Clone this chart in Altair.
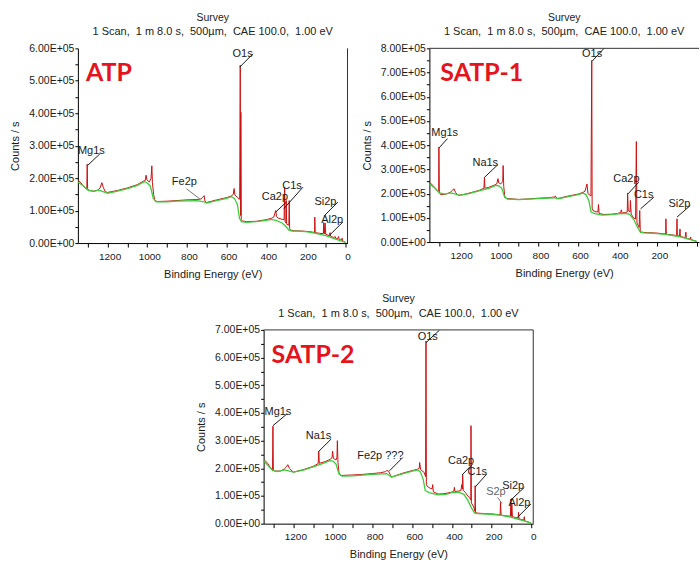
import altair as alt
import pandas as pd

FONT = "Liberation Sans"
RED = "#cc1010"
GREEN = "#3ccc3c"
INK = "#1a1a1a"
GREY = "#777777"

# ---------------- ATP ----------------
atp_red_be = [1350, 1335, 1318, 1305, 1303, 1301, 1295, 1270, 1250, 1238, 1229, 1222, 1212, 1200, 1150, 1100, 1050, 1022, 1010, 1006, 1002, 990, 981, 977, 974, 968, 962, 950, 900, 850, 800, 750, 728, 720, 713, 709, 700, 650, 600, 575, 566, 562, 558, 545, 534, 531, 529, 528, 526, 520, 500, 450, 400, 375, 362, 352, 348, 340, 320, 310, 307, 305, 300, 299, 297, 286, 284, 282, 278, 260, 220, 180, 160, 156, 155, 153, 130, 112, 110, 107, 103, 100, 82, 78, 75, 60, 52, 49, 40, 35, 32, 20, 17, 15, 5, 0]
atp_red_cps = [193000, 186000, 172000, 166000, 243000, 168000, 162000, 160000, 163000, 170000, 186000, 172000, 158000, 156000, 162000, 170000, 180000, 190000, 193000, 209000, 195000, 188000, 199000, 238000, 186000, 150000, 131000, 128000, 129000, 131000, 133000, 134000, 136000, 141000, 146000, 128000, 125000, 133000, 140000, 145000, 151000, 168000, 148000, 140000, 135000, 548000, 85000, 403000, 72000, 68000, 66000, 67000, 72000, 76000, 80000, 100000, 82000, 77000, 73000, 72000, 172000, 66000, 62000, 131000, 58000, 55000, 131000, 45000, 40000, 38000, 37000, 35000, 33000, 32000, 80000, 32000, 30000, 29000, 63000, 28000, 62000, 27000, 23000, 32000, 21000, 17000, 20000, 14000, 13000, 20000, 11000, 9000, 15000, 7000, 4000, 2000]
atp_green_be = [1350, 1320, 1300, 1270, 1245, 1230, 1200, 1150, 1100, 1050, 1015, 1000, 985, 970, 955, 900, 850, 800, 750, 720, 700, 650, 600, 575, 560, 545, 535, 525, 500, 450, 400, 375, 350, 320, 300, 285, 270, 250, 200, 150, 100, 50, 20, 0]
atp_green_cps = [188000, 175000, 163000, 159000, 163000, 160000, 153000, 160000, 168000, 178000, 189000, 185000, 176000, 138000, 127000, 127000, 129000, 130000, 131000, 128000, 123000, 131000, 138000, 143000, 137000, 118000, 76000, 66000, 64000, 66000, 70000, 73000, 70000, 62000, 50000, 40000, 37000, 37000, 35000, 30000, 23000, 12000, 6000, 2000]
atp_ann_name = ["Mg1s", "Fe2p", "O1s", "Ca2p", "C1s", "Si2p", "Al2p"]
atp_ann_be = [1282, 813, 519, 356, 270, 101, 67]
atp_ann_cps = [285000, 188000, 582000, 141000, 177000, 126000, 70000]
atp_lead_be1 = [1239, 802, 467, 299, 215, 39, 13]
atp_lead_cps1 = [275000, 167000, 583000, 126000, 172000, 126000, 65000]
atp_lead_be2 = [1301, 735, 534, 353, 311, 106, 81]
atp_lead_cps2 = [239000, 136000, 542000, 95000, 106000, 85000, 24000]
atp_text_col = [INK, INK, INK, INK, INK, INK, INK]
atp_lead_col = [INK, GREY, INK, INK, INK, INK, INK]

# ---------------- SATP-1 ----------------
s1_red_be = [1350, 1330, 1315, 1303, 1302, 1300, 1295, 1270, 1245, 1232, 1226, 1218, 1205, 1180, 1150, 1100, 1075, 1072, 1070, 1050, 1020, 1010, 1004, 1000, 990, 980, 978, 975, 970, 962, 930, 900, 850, 800, 750, 720, 715, 705, 690, 650, 600, 575, 565, 555, 550, 535, 531, 529, 525, 510, 500, 497, 494, 470, 430, 400, 385, 382, 378, 360, 352, 350, 347, 338, 336, 332, 320, 310, 306, 303, 292, 289, 286, 270, 250, 200, 170, 158, 157, 155, 130, 103, 101, 99, 88, 86, 84, 60, 56, 54, 35, 32, 30, 15, 0]
s1_red_cps = [247000, 232000, 215000, 210000, 392000, 205000, 197000, 197000, 205000, 215000, 220000, 205000, 193000, 196000, 202000, 213000, 222000, 268000, 222000, 226000, 236000, 240000, 262000, 245000, 240000, 250000, 316000, 230000, 190000, 180000, 178000, 176000, 178000, 181000, 183000, 186000, 190000, 180000, 182000, 190000, 198000, 205000, 210000, 240000, 200000, 190000, 750000, 140000, 130000, 125000, 124000, 155000, 118000, 114000, 115000, 118000, 122000, 133000, 120000, 122000, 124000, 202000, 130000, 125000, 172000, 115000, 100000, 95000, 415000, 80000, 60000, 130000, 42000, 40000, 39000, 37000, 34000, 33000, 96000, 32000, 30000, 27000, 96000, 26000, 25000, 54000, 23000, 18000, 41000, 15000, 12000, 21000, 10000, 6000, 2000]
s1_green_be = [1350, 1320, 1300, 1270, 1245, 1225, 1200, 1150, 1100, 1050, 1015, 1000, 985, 970, 955, 900, 800, 720, 700, 650, 600, 575, 560, 545, 535, 520, 480, 430, 400, 360, 340, 320, 300, 285, 270, 200, 150, 100, 50, 20, 0]
s1_green_cps = [240000, 222000, 203000, 198000, 203000, 200000, 193000, 200000, 211000, 222000, 234000, 232000, 222000, 185000, 177000, 175000, 179000, 183000, 178000, 188000, 196000, 202000, 196000, 170000, 125000, 118000, 111000, 113000, 116000, 118000, 114000, 95000, 60000, 40000, 38000, 35000, 31000, 24000, 14000, 7000, 2000]
s1_ann_name = ["Mg1s", "Na1s", "O1s", "Ca2p", "C1s", "Si2p"]
s1_ann_be = [1273, 1068, 529, 356, 269, 89]
s1_ann_cps = [450000, 327000, 775000, 261000, 196000, 158000]
s1_lead_be1 = [1259, 1004, 470, 294, 218, 34]
s1_lead_cps1 = [427000, 320000, 799000, 247000, 185000, 151000]
s1_lead_be2 = [1301, 1071, 529, 348, 285, 101]
s1_lead_cps2 = [389000, 268000, 747000, 199000, 137000, 103000]
s1_text_col = [INK, INK, INK, INK, INK, INK]
s1_lead_col = [INK, INK, INK, INK, INK, INK]

# ---------------- SATP-2 ----------------
s2_red_be = [1350, 1330, 1315, 1305, 1303, 1301, 1290, 1265, 1245, 1235, 1228, 1220, 1200, 1150, 1100, 1075, 1072, 1069, 1040, 1015, 1005, 1002, 998, 985, 980, 978, 975, 970, 962, 930, 900, 850, 800, 760, 735, 728, 720, 712, 705, 690, 650, 600, 575, 565, 563, 558, 540, 533, 531, 529, 520, 510, 500, 497, 494, 470, 440, 400, 390, 388, 385, 365, 355, 350, 348, 346, 343, 332, 320, 310, 305, 304, 302, 290, 284, 283, 281, 270, 250, 200, 170, 157, 155, 152, 130, 105, 103, 100, 98, 95, 78, 66, 64, 62, 50, 37, 35, 33, 15, 0]
s2_red_cps = [233000, 218000, 202000, 195000, 352000, 192000, 190000, 190000, 198000, 205000, 213000, 200000, 186000, 195000, 207000, 217000, 262000, 218000, 224000, 232000, 238000, 262000, 236000, 230000, 240000, 300000, 220000, 185000, 174000, 175000, 176000, 178000, 181000, 184000, 188000, 192000, 190000, 178000, 168000, 172000, 182000, 192000, 196000, 200000, 221000, 195000, 185000, 170000, 660000, 140000, 132000, 128000, 126000, 141000, 115000, 107000, 108000, 114000, 118000, 131000, 116000, 118000, 120000, 141000, 125000, 178000, 120000, 112000, 100000, 92000, 85000, 354000, 75000, 60000, 45000, 137000, 40000, 38000, 37000, 35000, 33000, 32000, 77000, 31000, 28000, 27000, 89000, 26000, 72000, 25000, 22000, 20000, 41000, 18000, 15000, 13000, 25000, 10000, 6000, 1000]
s2_green_be = [1350, 1325, 1305, 1280, 1245, 1225, 1200, 1150, 1100, 1050, 1015, 1000, 985, 970, 955, 900, 800, 730, 705, 650, 600, 575, 560, 545, 535, 515, 470, 430, 400, 365, 340, 320, 300, 285, 270, 200, 150, 100, 50, 20, 0]
s2_green_cps = [228000, 208000, 192000, 188000, 194000, 191000, 186000, 193000, 205000, 218000, 228000, 226000, 215000, 180000, 172000, 173000, 178000, 181000, 168000, 180000, 190000, 194000, 188000, 160000, 120000, 112000, 104000, 106000, 112000, 114000, 106000, 85000, 55000, 38000, 36000, 34000, 30000, 23000, 13000, 6000, 1000]
s2_ann_name = ["Mg1s", "Na1s", "Fe2p ???", "O1s", "Ca2p", "C1s", "S2p", "Si2p", "Al2p"]
s2_ann_be = [1278, 1073, 761, 522, 354, 272, 178, 91, 60]
s2_ann_cps = [405000, 316000, 245000, 676000, 227000, 185000, 113000, 137000, 75000]
s2_lead_be1 = [1233, 1009, 648, 463, 296, 225, 170, 35, 2]
s2_lead_cps1 = [396000, 306000, 239000, 699000, 215000, 179000, 95000, 131000, 71000]
s2_lead_be2 = [1303, 1072, 715, 531, 349, 282, 148, 102, 69]
s2_lead_cps2 = [354000, 261000, 191000, 654000, 176000, 133000, 73000, 86000, 23000]
s2_text_col = [INK, INK, INK, INK, INK, INK, "#666666", INK, INK]
s2_lead_col = [INK, INK, INK, INK, INK, INK, GREY, INK, INK]

SUB = "1 Scan,\u00a0 1 m 8.0 s,\u00a0 500\u00b5m,\u00a0 CAE 100.0,\u00a0 1.00 eV"


def y_label_expr():
    return ("datum.value % 100000 === 0 ? format(datum.value / 100000, '.2f') + 'E+' + "
            "(datum.value === 0 ? '00' : '05') : ''")


def panel(sample, red_be, red_cps, green_be, green_cps, ann, ymax, w, h,
          top_line, right_line, show_zero, tag_x):
    xs = alt.Scale(domain=[-10, 1350], reverse=True, nice=False, zero=False)
    ys = alt.Scale(domain=[0, ymax], nice=False, zero=True)
    zero_cond = "true" if show_zero else "datum.value > 0"
    xaxis = alt.Axis(values=list(range(0, 1301, 100)),
                     labelExpr=f"datum.value % 200 === 0 && {zero_cond} ? '' + datum.value : ''",
                     title="Binding Energy (eV)", grid=False, tickSize=4, labelPadding=4,
                     labelFontSize=10, labelOffset=2, titleFontSize=11, titlePadding=7,
                     labelFlush=False, labelOverlap=False, titleFontWeight="normal",
                     labelFont=FONT, titleFont=FONT)
    yaxis = alt.Axis(values=list(range(0, ymax + 1, 50000)), labelExpr=y_label_expr(),
                     title="Counts / s", grid=False, tickSize=3, labelPadding=1,
                     labelFontSize=10.5, titleFontSize=11, titlePadding=8,
                     labelOverlap=False, titleFontWeight="normal",
                     labelFont=FONT, titleFont=FONT)

    red_df = pd.DataFrame({"be": red_be, "cps": red_cps, "i": list(range(len(red_be)))})
    green_df = pd.DataFrame({"be": green_be, "cps": green_cps, "i": list(range(len(green_be)))})
    names, tbe, tcps, b1, c1, b2, c2, tcol, lcol = ann
    ann_df = pd.DataFrame({"name": names, "tx": tbe, "ty": tcps, "x1": b1, "y1": c1,
                           "x2": b2, "y2": c2, "tcol": tcol, "lcol": lcol})

    red = alt.Chart(red_df).mark_line(color=RED, strokeWidth=1, clip=True).encode(
        x=alt.X("be:Q", scale=xs, axis=xaxis),
        y=alt.Y("cps:Q", scale=ys, axis=yaxis),
        order="i:Q")
    green = alt.Chart(green_df).mark_line(color=GREEN, strokeWidth=1.3, clip=True).encode(
        x=alt.X("be:Q", scale=xs, axis=xaxis),
        y=alt.Y("cps:Q", scale=ys, axis=yaxis),
        order="i:Q")
    leads = alt.Chart(ann_df).mark_rule(strokeWidth=1, clip=True).encode(
        x=alt.X("x1:Q", scale=xs, axis=xaxis), x2="x2:Q",
        y=alt.Y("y1:Q", scale=ys, axis=yaxis), y2="y2:Q",
        color=alt.Color("lcol:N", scale=None))
    labels = alt.Chart(ann_df).mark_text(font=FONT, fontSize=11, align="center",
                                         baseline="middle").encode(
        x=alt.X("tx:Q", scale=xs, axis=xaxis),
        y=alt.Y("ty:Q", scale=ys, axis=yaxis),
        text="name:N",
        fill=alt.Fill("tcol:N", scale=None))
    one = pd.DataFrame({"t": [sample]})
    tag = alt.Chart(one).mark_text(font="Lato", fontSize=25, fontWeight="bold",
                                   color="#e5141c", align="left", baseline="middle").encode(
        x=alt.value(tag_x), y=alt.value(25), text="t:N")
    layers = [red, green, leads, labels, tag]
    if top_line:
        layers.append(alt.Chart(one).mark_rule(color="#333333", strokeWidth=1).encode(
            x=alt.value(0), x2=alt.value(w), y=alt.value(0)))
    if right_line:
        layers.append(alt.Chart(one).mark_rule(color="#333333", strokeWidth=1).encode(
            x=alt.value(w), y=alt.value(0), y2=alt.value(h)))
    return alt.layer(*layers).properties(
        width=w, height=h,
        title=alt.TitleParams(text="Survey", subtitle=SUB, fontSize=10.5, subtitleFontSize=11,
                              font=FONT, subtitleFont=FONT, fontWeight="normal",
                              color="#222222", subtitleColor="#222222", anchor="middle",
                              offset=6, subtitlePadding=3))


p1 = panel("ATP", atp_red_be, atp_red_cps, atp_green_be, atp_green_cps,
           (atp_ann_name, atp_ann_be, atp_ann_cps, atp_lead_be1, atp_lead_cps1,
            atp_lead_be2, atp_lead_cps2, atp_text_col, atp_lead_col),
           600000, 270, 195, False, True, True, 8)
p2 = panel("SATP-1", s1_red_be, s1_red_cps, s1_green_be, s1_green_cps,
           (s1_ann_name, s1_ann_be, s1_ann_cps, s1_lead_be1, s1_lead_cps1,
            s1_lead_be2, s1_lead_cps2, s1_text_col, s1_lead_col),
           800000, 270, 194, True, False, False, 11)
p3 = panel("SATP-2", s2_red_be, s2_red_cps, s2_green_be, s2_green_cps,
           (s2_ann_name, s2_ann_be, s2_ann_cps, s2_lead_be1, s2_lead_cps1,
            s2_lead_be2, s2_lead_cps2, s2_text_col, s2_lead_col),
           700000, 270, 194, True, True, True, 8)

spacer = alt.Chart(pd.DataFrame({"a": [0]})).mark_rule(strokeOpacity=0).encode(
    x=alt.value(10), y=alt.value(0), y2=alt.value(1)).properties(width=117, height=10)

chart = alt.vconcat(
    alt.hconcat(p1, p2, spacing=10),
    alt.hconcat(spacer, p3, spacing=0),
    spacing=15,
).properties(
    padding={"left": 9, "top": 12, "right": 0, "bottom": 0},
    background="white",
).configure_view(stroke=None).configure_axis(
    domainColor="#000000", tickColor="#000000", labelColor=INK, titleColor=INK,
    labelFont=FONT, titleFont=FONT, titleFontWeight="normal"
)

chart.save("out.html", embed_options={"renderer": "svg", "actions": False})
